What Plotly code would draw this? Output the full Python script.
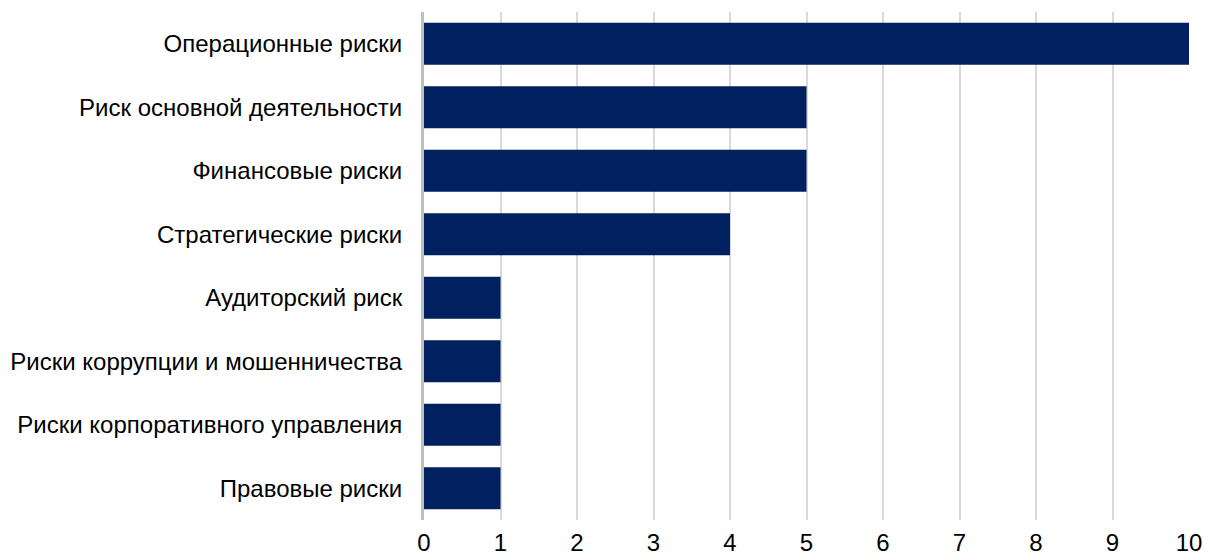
import plotly.graph_objects as go

# Risk categories (top to bottom) and their counts
categories = [
    "Операционные риски",
    "Риск основной деятельности",
    "Финансовые риски",
    "Стратегические риски",
    "Аудиторский риск",
    "Риски коррупции и мошенничества",
    "Риски корпоративного управления",
    "Правовые риски",
]
counts = [10, 5, 5, 4, 1, 1, 1, 1]
x_ticks = list(range(0, 11))

fig = go.Figure(
    go.Bar(
        x=counts,
        y=categories,
        orientation="h",
        marker=dict(color="#002060", line=dict(width=0)),
    )
)

fig.update_layout(
    width=1205,
    height=558,
    margin=dict(l=424, r=16, t=12, b=38, autoexpand=False),
    paper_bgcolor="white",
    plot_bgcolor="white",
    bargap=0.34,
    showlegend=False,
    font=dict(family="Liberation Sans, Arial, sans-serif", color="#000000"),
)

fig.update_xaxes(
    range=[0, 10],
    tickvals=x_ticks,
    ticktext=[str(v) for v in x_ticks],
    showgrid=True,
    gridcolor="#d9d9d9",
    gridwidth=2,
    zeroline=False,
    showline=False,
    ticks="",
    ticklabelstandoff=6,
    tickfont=dict(size=24, color="#000000"),
    automargin=False,
    fixedrange=True,
)

fig.update_yaxes(
    categoryorder="array",
    categoryarray=categories[::-1],
    autorange=True,
    showgrid=False,
    zeroline=False,
    showline=True,
    linecolor="#bfbfbf",
    linewidth=3,
    ticks="",
    ticklabelstandoff=14,
    tickfont=dict(size=24, color="#000000"),
    automargin=False,
    fixedrange=True,
)

fig.write_html("out.html")
